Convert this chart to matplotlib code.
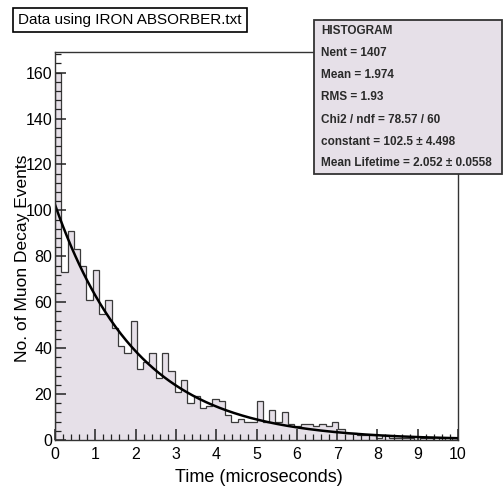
import numpy as np
import matplotlib.pyplot as plt
from matplotlib.ticker import MultipleLocator

plt.rcParams['font.family'] = ['Liberation Sans', 'DejaVu Sans']

# 64 bins from 0 to 10 microseconds
bin_lo = 0.0
bin_hi = 10.0
counts = [160, 73, 91, 83, 76, 61, 74, 55, 61, 49, 41, 38, 52, 31, 34, 38,
          27, 38, 30, 21, 26, 16, 19, 14, 15, 18, 17, 11, 8, 9, 8, 8,
          17, 8, 13, 8, 12, 7, 6, 7, 7, 6, 7, 6, 8, 5, 3, 3,
          2, 2, 2, 1, 2, 1, 1, 1, 1, 0, 1, 1, 0, 1, 0, 1]

# fit result
fit_const = 102.5
fit_tau = 2.052

title = "Data using IRON ABSORBER.txt"
stats = ["HISTOGRAM",
         "Nent = 1407",
         "Mean = 1.974",
         "RMS = 1.93",
         "Chi2 / ndf = 78.57 / 60",
         "constant = 102.5 \u00b1 4.498",
         "Mean Lifetime = 2.052 \u00b1 0.0558"]

edges = np.linspace(bin_lo, bin_hi, len(counts) + 1)
fill = '#e6e0e8'

fig = plt.figure(figsize=(5.04, 4.87), dpi=100)
ax = fig.add_axes([55/504, 47/487, 403/504, 388/487])

ax.stairs(counts, edges, fill=True, color=fill)
ax.stairs(counts, edges, color='#3a3a3a', linewidth=0.9)

t = np.linspace(0, 10, 300)
ax.plot(t, fit_const * np.exp(-t / fit_tau), color='black', linewidth=1.8)

ax.set_xlim(0, 10)
ax.set_ylim(0, 169)
ax.xaxis.set_major_locator(MultipleLocator(1))
ax.xaxis.set_minor_locator(MultipleLocator(0.2))
ax.yaxis.set_major_locator(MultipleLocator(20))
ax.yaxis.set_minor_locator(MultipleLocator(4))
ax.tick_params(which='both', direction='in', top=False, right=False,
               labelsize=11.5, color='#222222')
ax.tick_params(which='major', length=8, width=1.1)
ax.tick_params(which='minor', length=4, width=0.9)
ax.tick_params(axis='x', pad=5)
ax.tick_params(axis='y', pad=2)
for s in ax.spines.values():
    s.set_linewidth(1.0)
    s.set_color('#333333')

ax.set_xlabel("Time (microseconds)", fontsize=13)
ax.xaxis.set_label_coords(0.505, -0.075)
ax.set_ylabel("No. of Muon Decay Events", fontsize=12.5)
ax.yaxis.set_label_coords(-0.063, 0.468)

fig.text(18/504, 1 - 20/487, title, fontsize=11, va='center', ha='left',
         bbox=dict(boxstyle='square,pad=0.35', fc='white', ec='black', lw=1.2))

fig.patches.append(plt.Rectangle((314/504, 1 - 174/487), 188/504, 154/487,
                                 transform=fig.transFigure, fc=fill,
                                 ec='#333333', lw=1.3, zorder=5))
ys = [31, 53, 75, 97, 120, 142, 163]
for line, y in zip(stats, ys):
    fig.text(321/504, 1 - y/487, line, fontsize=8.5, fontweight='bold',
             va='center', ha='left', color='#2a2a2a', zorder=6)

fig.savefig('out.png', dpi=100)
